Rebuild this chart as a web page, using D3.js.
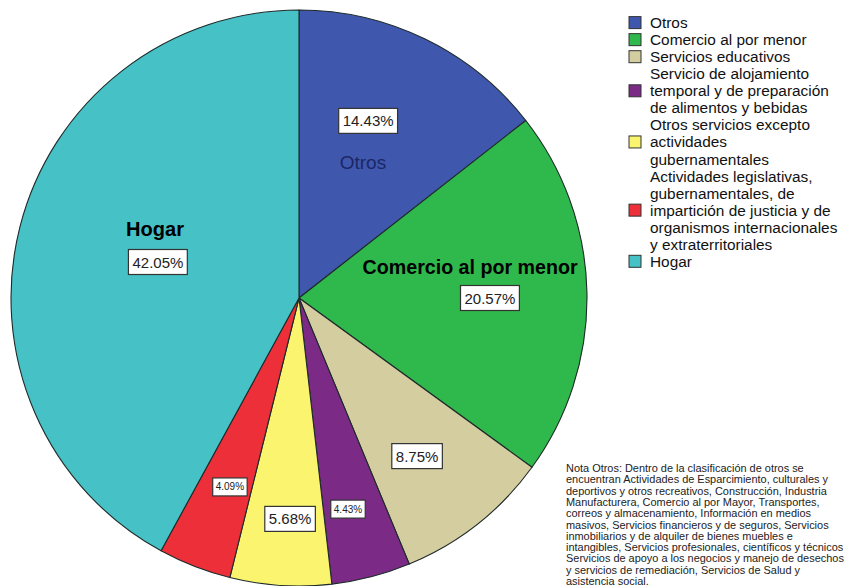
<!DOCTYPE html>
<html>
<head>
<meta charset="utf-8">
<script src="https://cdn.jsdelivr.net/npm/d3@7"></script>
<style>
  html, body { margin: 0; padding: 0; background: #fff; }
  svg { display: block; }
</style>
</head>
<body>
<svg id="chart" width="846" height="586"></svg>
<script>
// Sectors, in clockwise order from 12 o'clock
const categories = [
  "Otros",
  "Comercio al por menor",
  "Servicios educativos",
  "Servicio de alojamiento temporal y de preparación de alimentos y bebidas",
  "Otros servicios excepto actividades gubernamentales",
  "Actividades legislativas, gubernamentales, de impartición de justicia y de organismos internacionales y extraterritoriales",
  "Hogar"
];
const percentages = [14.43, 20.57, 8.75, 4.43, 5.68, 4.09, 42.05];
const sliceColors = ["#3f58ad", "#2fb84b", "#d4cd9f", "#7b2a86", "#faf46e", "#ec2f38", "#46c1c5"];

// Legend entries, wrapped as drawn
const legendLines = [
  ["Otros"],
  ["Comercio al por menor"],
  ["Servicios educativos"],
  ["Servicio de alojamiento", "temporal y de preparación", "de alimentos y bebidas"],
  ["Otros servicios excepto", "actividades", "gubernamentales"],
  ["Actividades legislativas,", "gubernamentales, de", "impartición de justicia y de", "organismos internacionales", "y extraterritoriales"],
  ["Hogar"]
];

const noteLines = [
  "Nota Otros: Dentro de la clasificación de otros se",
  "encuentran Actividades de Esparcimiento, culturales y",
  "deportivos y otros recreativos, Construcción, Industria",
  "Manufacturera, Comercio al por Mayor, Transportes,",
  "correos y almacenamiento, Información en medios",
  "masivos, Servicios financieros y de seguros, Servicios",
  "inmobiliarios y de alquiler de bienes muebles e",
  "intangibles, Servicios profesionales, científicos y técnicos",
  "Servicios de apoyo a los negocios y manejo de desechos",
  "y servicios de remediación, Servicios de Salud y",
  "asistencia social."
];

// ---- layout ----
const svg = d3.select("#chart");
const cx = 299, cy = 298, R = 288;

// Percent-label placement relative to the pie centre, as fractions of the radius,
// plus the label size variant.
const pctPlacement = [
  { fx: 0.240, fy: -0.615, small: false },
  { fx: 0.663, fy: 0.000, small: false },
  { fx: 0.410, fy: 0.549, small: false },
  { fx: 0.170, fy: 0.733, small: true },
  { fx: -0.031, fy: 0.767, small: false },
  { fx: -0.240, fy: 0.656, small: true },
  { fx: -0.490, fy: -0.125, small: false }
];
// Category captions drawn on the pie
const captions = [
  { idx: 0, fx: 0.222, fy: -0.472, bold: false, color: "#1b2766", size: 19 },
  { idx: 1, fx: 0.594, fy: -0.111, bold: true, color: "#000", size: 21, width: 215 },
  { idx: 6, fx: -0.500, fy: -0.243, bold: true, color: "#000", size: 21, width: 58 }
];

const pie = d3.pie().sort(null).value(d => d)
  .startAngle(0).endAngle(2 * Math.PI);
const arc = d3.arc().innerRadius(0).outerRadius(R);
const arcs = pie(percentages);

const g = svg.append("g").attr("transform", `translate(${cx},${cy})`);

g.selectAll("path.slice")
  .data(arcs)
  .join("path")
  .attr("class", "slice")
  .attr("d", arc)
  .attr("fill", (d, i) => sliceColors[i])
  .attr("stroke", "#1e2a2a")
  .attr("stroke-width", 1.1)
  .attr("stroke-linejoin", "round");

// Category captions
captions.forEach(c => {
  const t = g.append("text")
    .attr("x", c.fx * R)
    .attr("y", c.fy * R)
    .attr("text-anchor", "middle")
    .attr("dominant-baseline", "central")
    .attr("font-family", c.bold ? "'Liberation Sans Narrow', 'Arial Narrow', 'Liberation Sans', sans-serif" : "'Liberation Sans', Arial, sans-serif")
    .attr("font-weight", c.bold ? "bold" : "normal")
    .attr("font-size", c.size)
    .attr("fill", c.color)
    .text(categories[c.idx]);
  if (c.width) t.attr("textLength", c.width).attr("lengthAdjust", "spacingAndGlyphs");
});

// Percentage labels in white boxes
const fmt = d => d.toFixed(2) + "%";
arcs.forEach((a, i) => {
  const p = pctPlacement[i];
  const lg = g.append("g").attr("transform", `translate(${p.fx * R},${p.fy * R})`);
  const fs = p.small ? 10 : 15;
  const txt = lg.append("text")
    .attr("text-anchor", "middle")
    .attr("dominant-baseline", "central")
    .attr("font-family", "'Liberation Sans', Arial, sans-serif")
    .attr("font-size", fs)
    .attr("fill", "#222")
    .text(fmt(percentages[i]));
  const bb = txt.node().getBBox();
  const padX = p.small ? 3 : 4, h = p.small ? 18 : 25;
  lg.insert("rect", "text")
    .attr("x", bb.x - padX)
    .attr("y", -h / 2)
    .attr("width", bb.width + 2 * padX)
    .attr("height", h)
    .attr("fill", "#fff")
    .attr("stroke", "#333")
    .attr("stroke-width", 1.2);
});

// Legend
const legendX = 629, legendTop = 22.6, lineH = 17.05, sw = 12;
let line = 0;
const legend = svg.append("g");
legendLines.forEach((lines, i) => {
  const mid = line + (lines.length - 1) / 2;
  legend.append("rect")
    .attr("x", legendX)
    .attr("y", legendTop + mid * lineH - sw / 2)
    .attr("width", sw)
    .attr("height", sw)
    .attr("fill", sliceColors[i])
    .attr("stroke", "#333")
    .attr("stroke-width", 1);
  lines.forEach((s, k) => {
    legend.append("text")
      .attr("x", legendX + 21)
      .attr("y", legendTop + (line + k) * lineH)
      .attr("dominant-baseline", "central")
      .attr("font-family", "'Liberation Sans', Arial, sans-serif")
      .attr("font-size", 15.4)
      .attr("fill", "#111")
      .text(s);
  });
  line += lines.length;
});

// Footnote
const note = svg.append("g");
noteLines.forEach((s, k) => {
  note.append("text")
    .attr("x", 566)
    .attr("y", 468 + k * 11.3)
    .attr("dominant-baseline", "central")
    .attr("font-family", "'Liberation Sans Narrow', 'Liberation Sans', sans-serif")
    .attr("font-size", 10.95)
    .attr("fill", "#222")
    .text(s);
});
</script>
</body>
</html>
